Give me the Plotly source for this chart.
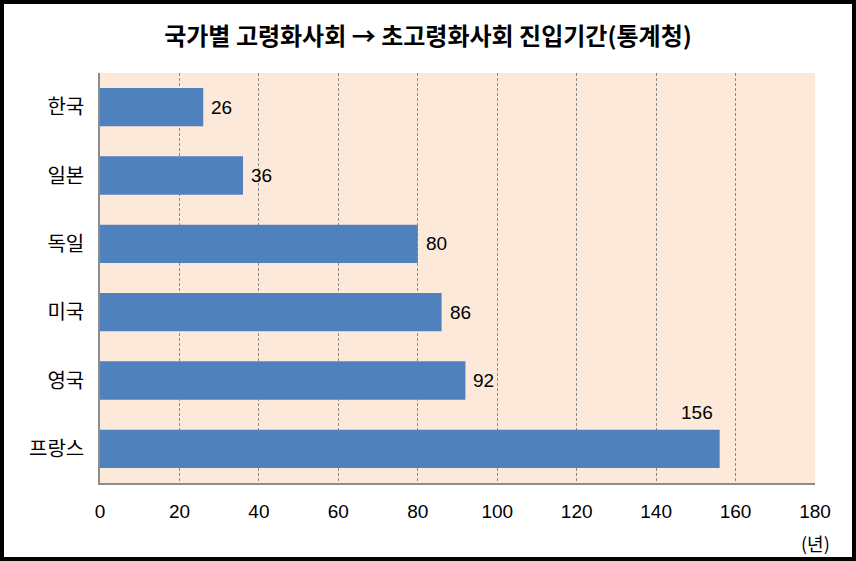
import plotly.graph_objects as go

countries = ["한국", "일본", "독일", "미국", "영국", "프랑스"]
years = [26, 36, 80, 86, 92, 156]
x_ticks = [0, 20, 40, 60, 80, 100, 120, 140, 160, 180]
title_text = "국가별 고령화사회 → 초고령화사회 진입기간(통계청)"
unit_text = "(년)"

W, H = 856, 561
ML, MR, MT, MB = 100, 41, 73, 78
PW, PH = W - ML - MR, H - MT - MB

bar_color = "#4F81BD"
kfont = "Noto Sans CJK KR"
nfont = "Liberation Sans, Arial"

fig = go.Figure()
fig.add_trace(go.Bar(
    x=years, y=countries, orientation="h",
    marker=dict(color=bar_color, line=dict(width=0)),
    width=0.56,
    hoverinfo="x+y",
))

# value labels
for c, v in zip(countries, years):
    if v >= 150:
        fig.add_annotation(x=v, y=c, text=str(v), showarrow=False,
                           xanchor="center", yanchor="middle", yshift=36, xshift=-23,
                           font=dict(family=nfont, size=19, color="black"))
    else:
        fig.add_annotation(x=v, y=c, text=str(v), showarrow=False,
                           xanchor="left", yanchor="middle", xshift=6,
                           font=dict(family=nfont, size=19, color="black"))

fig.add_annotation(xref="paper", yref="paper", x=1, y=0, yshift=-60,
                   xanchor="center", yanchor="middle", text=unit_text, showarrow=False,
                   font=dict(family=kfont, size=18, color="black"))

# outer border
def px_to_paper_x(px):
    return (px - ML) / PW

def px_to_paper_y(py):
    return (H - MB - py) / PH

fig.add_shape(type="rect", xref="paper", yref="paper",
              x0=px_to_paper_x(2), x1=px_to_paper_x(W - 2),
              y0=px_to_paper_y(H - 2), y1=px_to_paper_y(2),
              line=dict(color="black", width=4), layer="above")

n = len(countries)
fig.update_layout(
    width=W, height=H,
    margin=dict(l=ML, r=MR, t=MT, b=MB),
    paper_bgcolor="white",
    plot_bgcolor="#FDE9D9",
    showlegend=False,
    title=dict(text="<b>" + title_text + "</b>", x=0.5, xref="container", xanchor="center",
               y=1 - 37 / H, yanchor="middle", yref="container",
               font=dict(family=kfont, size=24, color="black")),
    xaxis=dict(range=[0, 180], tickvals=x_ticks, ticktext=[str(t) for t in x_ticks],
               showgrid=True, gridcolor="#8C8C8C", griddash="3px,2px", gridwidth=1,
               showline=True, linecolor="#8C8C8C", linewidth=1.5,
               ticks="", ticklabelstandoff=10, zeroline=False,
               tickfont=dict(family=nfont, size=19, color="black")),
    yaxis=dict(range=[n - 0.5, -0.5], showgrid=False, showline=True,
               linecolor="#8C8C8C", linewidth=1.5, ticks="", ticklabelstandoff=10,
               tickfont=dict(family=kfont, size=20, color="black")),
)

fig.write_html("out.html", config={"displayModeBar": False},
               post_script="document.body.style.margin='0';document.body.style.padding='0';")
